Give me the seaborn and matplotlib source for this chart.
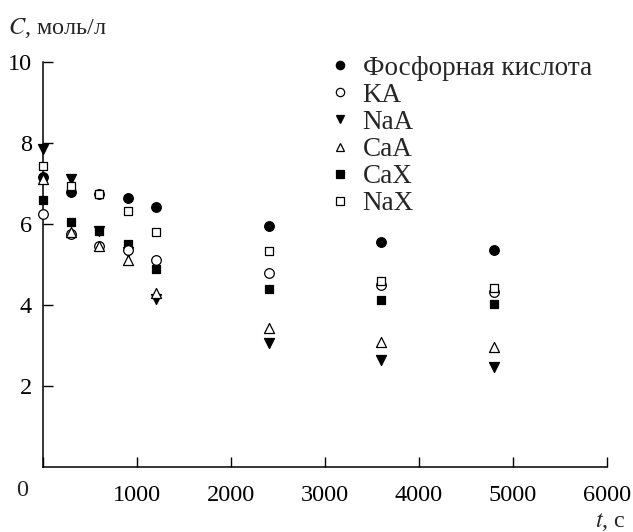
import matplotlib
matplotlib.use("Agg")
import matplotlib.pyplot as plt
import seaborn as sns
import numpy as np
from matplotlib.lines import Line2D

# Data
t = [0, 300, 600, 900, 1200, 2400, 3600, 4800]
phosphoric = [7.15, 6.8, 6.75, 6.65, 6.42, 5.95, 5.55, 5.37]
KA = [6.25, 5.75, 5.45, 5.35, 5.12, 4.8, 4.49, 4.33]
NaA = [7.85, 7.12, 5.83, 5.3, 4.15, 3.07, 2.63, 2.48]
CaA = [7.1, 5.8, 5.45, 5.1, 4.3, 3.44, 3.09, 2.97]
CaX = [6.6, 6.05, 5.83, 5.5, 4.9, 4.39, 4.12, 4.02]
NaX = [7.42, 6.95, 6.75, 6.33, 5.8, 5.33, 4.6, 4.41]

labels = ["Фосфорная кислота", "KA", "NaA", "CaA", "CaX", "NaX"]
x_ticks = [1000, 2000, 3000, 4000, 5000, 6000]
y_ticks = [2, 4, 6, 8, 10]

sns.set_theme(style="ticks")
plt.rcParams["font.family"] = ["Liberation Serif", "DejaVu Serif"]
plt.rcParams["mathtext.fontset"] = "stix"

FS = 17.5
fig = plt.figure(figsize=(6.33, 5.32), dpi=100)
ax = fig.add_axes([43/633, 1 - 467/532, (607-43)/633, (467-62)/532])

# draw order: filled first, then open (white-filled) markers on top
series = [
    ("Фосфорная кислота", phosphoric, "o", "black", 48, 2),
    ("NaA", NaA, "v", "black", 52, 3),
    ("CaX", CaX, "s", "black", 36, 4),
    ("KA", KA, "o", "white", 48, 5),
    ("CaA", CaA, "^", "white", 52, 6),
    ("NaX", NaX, "s", "white", 36, 7),
]
for name, vals, m, fc, s, z in series:
    sns.scatterplot(x=t, y=vals, marker=m, s=s, color=fc, edgecolor="black",
                    linewidth=0.9, ax=ax, zorder=z, clip_on=False, legend=False)

ax.set_xlim(0, 6000)
ax.set_ylim(0, 10)
ax.set_xticks([0] + x_ticks)
ax.set_xticklabels([""] + [str(v) for v in x_ticks])
ax.set_yticks(y_ticks)
ax.set_yticklabels([str(v) for v in y_ticks])
ax.tick_params(direction="in", length=7, width=1, labelsize=FS, colors="black")
ax.tick_params(axis="x", pad=13)
ax.tick_params(axis="y", pad=8)
for side in ["top", "right"]:
    ax.spines[side].set_visible(False)
for side in ["left", "bottom"]:
    ax.spines[side].set_linewidth(1.1)
    ax.spines[side].set_color("black")
ax.set_xlabel("")
ax.set_ylabel("")

fig.text(22/633, 1 - 490/532, "0", fontsize=FS, ha="center", va="center")
fig.text(8/633, 1 - 28/532, "$\\it{C}$, моль/л", fontsize=FS, ha="left", va="center")
fig.text(626/633, 1 - 522/532, "$\\it{t}$, с", fontsize=FS, ha="right", va="center")

style = {
    "Фосфорная кислота": ("o", "black"),
    "KA": ("o", "white"),
    "NaA": ("v", "black"),
    "CaA": ("^", "white"),
    "CaX": ("s", "black"),
    "NaX": ("s", "white"),
}
handles = [Line2D([], [], linestyle="none", marker=style[l][0], markerfacecolor=style[l][1],
                  markeredgecolor="black", markeredgewidth=0.9, markersize=6 if style[l][0] != "s" else 5.2)
           for l in labels]
ax.legend(handles, labels, loc="upper left", bbox_to_anchor=(318/633, 1 - 42/532),
          bbox_transform=fig.transFigure, frameon=False, fontsize=19.5,
          handlelength=0.6, handletextpad=0.55, labelspacing=0.08, borderpad=0)

fig.savefig("out.png", dpi=100)
